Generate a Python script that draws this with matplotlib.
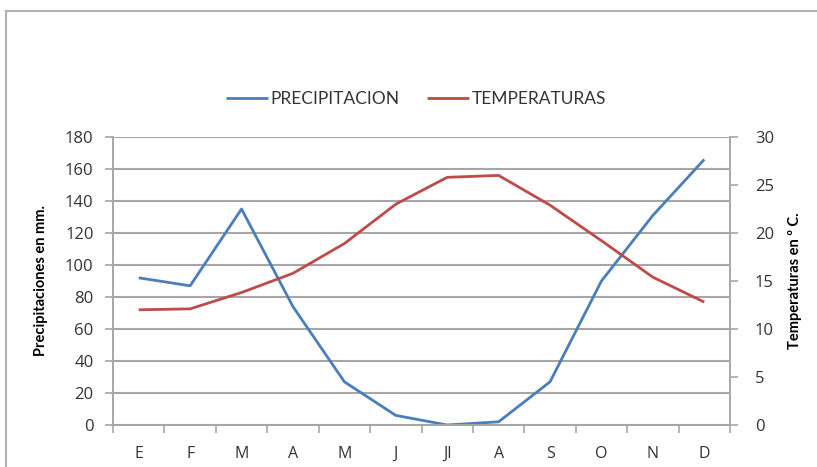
import numpy as np
import matplotlib.pyplot as plt
from matplotlib.lines import Line2D

# ======================
# DATA
# ======================
months = ["E", "F", "M", "A", "M", "J", "Jl", "A", "S", "O", "N", "D"]
precipitacion = [92, 87, 135, 74, 27, 6, 0, 2, 27, 90, 131, 166]
temperaturas = [12.0, 12.1, 13.8, 15.8, 18.9, 23.0, 25.8, 26.0, 22.9, 19.2, 15.4, 12.8]

blue = "#4a7ebb"
red = "#be4b48"
grey = "#a6a6a6"
text_col = "#333333"

plt.rcParams["font.family"] = ["Lato", "DejaVu Sans"]

# ======================
# PLOT
# ======================
fig = plt.figure(figsize=(8.17, 4.67), dpi=100)
ax = fig.add_axes([113 / 817, 1 - 425 / 467, (730 - 113) / 817, (425 - 137) / 467])
ax2 = ax.twinx()

x = np.arange(len(months))
l1, = ax.plot(x, precipitacion, color=blue, linewidth=2.0, solid_capstyle="butt")
l2, = ax2.plot(x, temperaturas, color=red, linewidth=2.0, solid_capstyle="butt")

ax.set_xlim(-0.5, len(months) - 0.5)
ax.set_ylim(0, 180)
ax2.set_ylim(0, 30)
ax.set_yticks(range(0, 181, 20))
ax2.set_yticks(range(0, 31, 5))

# category ticks at boundaries, labels at centers
ax.set_xticks(np.arange(-0.5, len(months), 1))
ax.set_xticklabels([])
ax.set_xticks(x, minor=True)
ax.set_xticklabels(months, minor=True, fontfamily="Open Sans")
ax.tick_params(axis="x", which="minor", length=0, pad=15, labelsize=11.5, labelcolor=text_col)
ax.tick_params(axis="x", which="major", length=6, width=1.2, color=grey, direction="out")
ax.tick_params(axis="y", length=6, width=1.2, color=grey, labelsize=12, labelcolor=text_col, pad=8)
ax2.tick_params(axis="y", length=6, width=1.2, color=grey, labelsize=12, labelcolor=text_col, pad=12)
for lab in ax.get_yticklabels() + ax2.get_yticklabels():
    lab.set_fontfamily("Open Sans")

ax.grid(axis="y", color=grey, linewidth=1.5)
ax.set_axisbelow(True)

for a in (ax, ax2):
    a.spines["top"].set_visible(False)
    for s in ("left", "right", "bottom"):
        a.spines[s].set_color(grey)
        a.spines[s].set_linewidth(1.2)

ax.set_ylabel("Precipitaciones en mm.", fontsize=10.5, fontweight="bold", color="black", labelpad=12)
ax2.set_ylabel("Temperaturas en º C.", fontsize=10.5, fontweight="bold", color="black", labelpad=10)

fig.legend([l1, l2], ["PRECIPITACION", "TEMPERATURAS"], loc="center",
           bbox_to_anchor=(416 / 817, 1 - 99 / 467), ncol=2, frameon=False,
           fontsize=12.5, handlelength=2.4, handletextpad=0.15, columnspacing=1.6,
           labelcolor=text_col)

# outer chart frame (only top and left edges visible)
fig.add_artist(Line2D([6 / 817, 6 / 817], [0, 1 - 11 / 467], color="#b0b0b0", linewidth=1.5))
fig.add_artist(Line2D([6 / 817, 1], [1 - 11 / 467, 1 - 11 / 467], color="#b0b0b0", linewidth=1.5))

plt.savefig("out.png", dpi=100)
